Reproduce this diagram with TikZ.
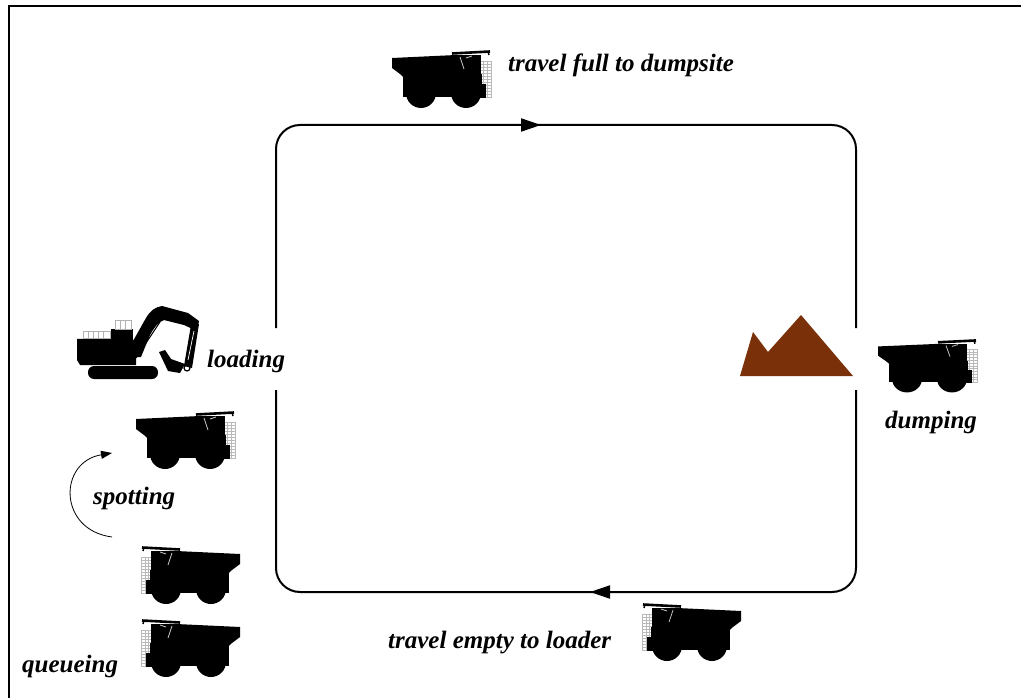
\documentclass[tikz,border=0pt]{standalone}
\usepackage{fontspec}
\setmainfont{Liberation Serif}
\usetikzlibrary{arrows.meta}
\definecolor{dirt}{RGB}{122,48,8}
\tikzset{
  lbl/.style={font=\fontsize{25}{28}\selectfont\bfseries\itshape, inner sep=0pt, anchor=base west},
  road/.style={line width=2pt, rounded corners=24pt},
  flowtip/.style={line width=2pt, -{Triangle[length=20pt,width=13pt]}},
  grille/.style={gray!55, line width=0.45pt},
  % haul truck silhouette, facing right, 98 x 57 units, origin at top left
  truck/.pic={
    \draw[grille] (88,10) rectangle (99,46);
    \foreach \yy in {13,16,...,43} \draw[grille] (88,\yy) -- (99,\yy);
    \foreach \xx in {91.5,95} \draw[grille] (\xx,10) -- (\xx,46);
    \fill[black] (0,7) -- (64,4) -- (66,28) -- (24,31)
      .. controls (16,30) and (12,27) .. (8,23) -- (0,17) -- cycle;
    \fill[black] (62,4) rectangle (89,44);
    \fill[black] (86,33) rectangle (94,47);
    \draw[black, line width=2.6pt] (60,2.5) -- (98,0.5);
    \draw[black, line width=1.5pt] (96,0.5) -- (97,4);
    \fill[black] (11,23) rectangle (90,46);
    \fill[black] (29,42) circle[radius=15];
    \fill[black] (74,42) circle[radius=15];
    \draw[gray!50, line width=0.8pt] (68,6) -- (72,18);
    \draw[gray!50, line width=0.8pt] (74,7) -- (80,5);
  }
}
\begin{document}
\begin{tikzpicture}[x=1pt,y=-1pt]
\useasboundingbox (0,0) rectangle (1021,698);
\fill[white] (0,0) rectangle (1021,698);

% frame edges
\draw[line width=1.8pt] (9,698) -- (9,6) -- (1021,6);

% haul road loop
\coordinate (LT) at (276,125);
\coordinate (RT) at (856,125);
\coordinate (RB) at (856,592);
\coordinate (LB) at (276,592);
\coordinate (Lup) at (276,328);
\coordinate (Ldn) at (276,390);
\coordinate (Rup) at (856,328);
\coordinate (Rdn) at (856,390);
\draw[road] (Rup) -- (RT) -- (LT) -- (Lup);
\draw[road] (Ldn) -- (LB) -- (RB) -- (Rdn);

% direction of travel
\coordinate (fullA) at (515,125);
\coordinate (fullB) at (541,125);
\coordinate (emptyA) at (618,592);
\coordinate (emptyB) at (590,592);
\draw[flowtip] (fullA) -- (fullB);
\draw[flowtip] (emptyA) -- (emptyB);

% dump pile
\fill[dirt] (740,376) -- (753,332) -- (768,352) -- (801,315) -- (853,376) -- cycle;

% excavator
\fill[black, rounded corners=6pt] (88,366) rectangle (158,379);
\fill[black] (77,339) -- (132,338) -- (136,344) -- (136,365) -- (80,365) -- (77,360) -- cycle;
\fill[black] (111,329) rectangle (133,340);
\draw[gray!60, line width=0.6pt] (83,331) rectangle (110,338);
\foreach \xx in {88,93,98,103} \draw[gray!60, line width=0.6pt] (\xx,331) -- (\xx,338);
\draw[gray!60, line width=0.6pt] (115,320) rectangle (131,329);
\foreach \xx in {120,125} \draw[gray!60, line width=0.6pt] (\xx,320) -- (\xx,329);
\fill[black] (124,357) -- (146,318) .. controls (150,311) and (155,307) .. (162,306)
  -- (188,313) -- (199,321) -- (197,331) -- (184,325) -- (164,320)
  .. controls (158,322) and (154,328) .. (150,335) -- (141,357) -- cycle;
\fill[black] (191,325) -- (199,324) -- (192,368) -- (184,366) -- cycle;
\draw[white, line width=0.7pt] (194,331) -- (188,360);
\fill[black] (159,352) -- (165,350) -- (171,359) -- (185,364) -- (180,373) -- (168,371) -- cycle;
\draw[black, line width=1.2pt] (187,368) circle[radius=3];
\draw[black, line width=1pt] (136,358) -- (160,322);

% trucks
\pic (tfullcar) at (392,51) {truck};
\pic (tdumpcar) at (878,340) [yscale=0.92] {truck};
\pic (tspotcar) at (136,412) {truck};
\pic (tq1car) at (240,547) [xscale=-1] {truck};
\pic (tq2car) at (240,620) [xscale=-1] {truck};
\pic (temptycar) at (741,604) [xscale=-1] {truck};

% spotting manoeuvre
\coordinate (sp1) at (112,537);
\coordinate (sp2) at (112,453);
\draw[line width=0.8pt, -{Triangle[length=11pt,width=8pt]}] (sp1) .. controls (58,530) and (58,462) .. (sp2);

% labels
\node[lbl] (tfull) at (508,72) {travel full to dumpsite};
\node[lbl] (tload) at (207,367) {loading};
\node[lbl] (tdump) at (885,428) {dumping};
\node[lbl] (tspot) at (93,504) {spotting};
\node[lbl] (tqueue) at (22,672) {queueing};
\node[lbl] (tempty) at (388,648) {travel empty to loader};
\end{tikzpicture}
\end{document}
